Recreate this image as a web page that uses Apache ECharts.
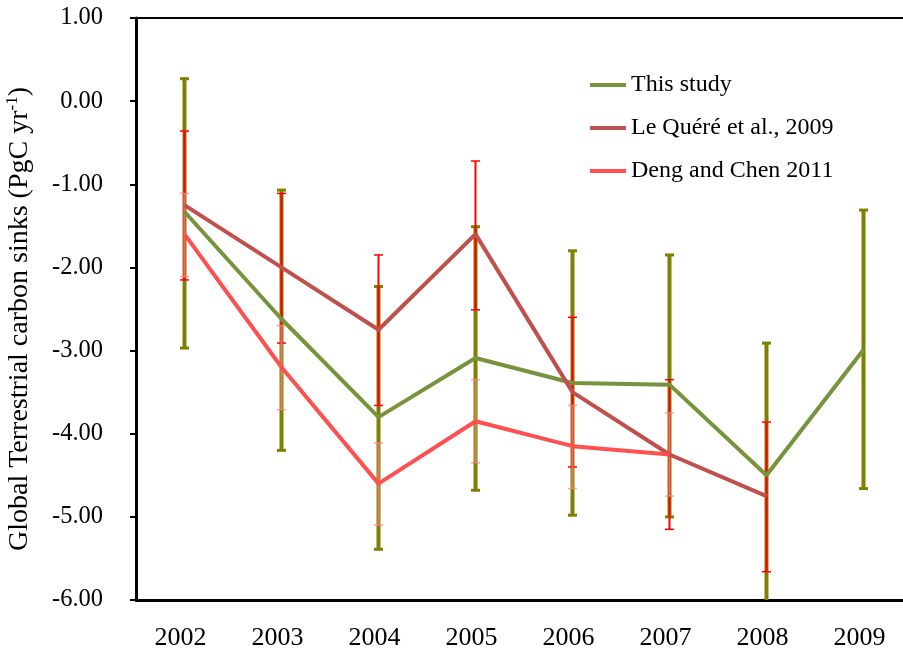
<!DOCTYPE html>
<html>
<head>
<meta charset="utf-8">
<script src="https://cdn.jsdelivr.net/npm/echarts@6/dist/echarts.min.js"></script>
<style>
  html, body { margin: 0; padding: 0; background: #fff; }
  #chart { width: 903px; height: 652px; }
</style>
</head>
<body>
<div id="chart"></div>
<script>
// years and series
var years = ['2002', '2003', '2004', '2005', '2006', '2007', '2008', '2009'];
var yTicks = [-6, -5, -4, -3, -2, -1, 0, 1];

var study     = [-1.33, -2.62, -3.80, -3.09, -3.39, -3.41, -4.50, -2.99];
var studyLow  = [-2.97, -4.20, -5.39, -4.68, -4.98, -5.00, -6.09, -4.66];
var studyHigh = [0.27, -1.07, -2.23, -1.51, -1.80, -1.85, -2.91, -1.31];

var leQuere     = [-1.25, -2.00, -2.75, -1.60, -3.50, -4.25, -4.75, null];
var leQuereLow  = [-2.15, -2.91, -3.66, -2.51, -4.40, -5.15, -5.66];
var leQuereHigh = [-0.36, -1.11, -1.85, -0.72, -2.60, -3.35, -3.86];

var deng     = [-1.60, -3.20, -4.60, -3.85, -4.15, -4.25, null, null];
var dengLow  = [-2.11, -3.71, -5.10, -4.35, -4.66, -4.75];
var dengHigh = [-1.11, -2.70, -4.11, -3.35, -3.66, -3.75];

var font = 'Liberation Serif';

function errData(low, high) {
  var out = [];
  for (var i = 0; i < low.length; i++) out.push([i, low[i], high[i]]);
  return out;
}

// draws vertical error bar with caps
function errorBar(color, width, capW, capH) {
  return function (params, api) {
    var lo = api.coord([api.value(0), api.value(1)]);
    var hi = api.coord([api.value(0), api.value(2)]);
    var st = { stroke: color, lineWidth: width };
    var capSt = { stroke: color, lineWidth: capH };
    return {
      type: 'group',
      children: [
        { type: 'line', shape: { x1: lo[0], y1: lo[1], x2: hi[0], y2: hi[1] }, style: st },
        { type: 'line', shape: { x1: hi[0] - capW / 2, y1: hi[1], x2: hi[0] + capW / 2, y2: hi[1] }, style: capSt },
        { type: 'line', shape: { x1: lo[0] - capW / 2, y1: lo[1], x2: lo[0] + capW / 2, y2: lo[1] }, style: capSt }
      ]
    };
  };
}

var myChart = echarts.init(document.getElementById('chart'));
var option = {
  animation: false,
  backgroundColor: '#fff',
  textStyle: { fontFamily: font },
  grid: {
    left: 136, top: 18, width: 776, height: 582,
    outerBoundsMode: 'none',
    show: true, borderColor: '#000', borderWidth: 2
  },
  legend: {
    data: ['This study', 'Le Quéré et al., 2009', 'Deng and Chen 2011'],
    orient: 'vertical',
    left: 585, top: 68,
    itemWidth: 36, itemHeight: 4, itemGap: 19,
    icon: 'rect',
    textStyle: { fontFamily: font, fontSize: 24, color: '#000' }
  },
  xAxis: {
    type: 'category',
    data: years,
    axisLine: { onZero: false, lineStyle: { color: '#000', width: 3 } },
    axisTick: { length: 5, lineStyle: { color: '#000', width: 2 } },
    axisLabel: { fontFamily: font, fontSize: 26, color: '#000', margin: 25, padding: [0, 8, 0, 0] },
    splitLine: { show: false }
  },
  yAxis: {
    type: 'value',
    min: yTicks[0], max: yTicks[yTicks.length - 1], interval: 1,
    axisLine: { show: true, lineStyle: { color: '#000', width: 3 } },
    axisTick: { show: true, length: 6, lineStyle: { color: '#000', width: 2 } },
    axisLabel: {
      fontFamily: font, fontSize: 24.5, color: '#000', margin: 33,
      formatter: function (v) { return v.toFixed(2); }
    },
    splitLine: { show: false },
    name: '{n|Global Terrestrial carbon sinks (PgC yr}{s|-1}{n|)}',
    nameLocation: 'middle',
    nameGap: 101,
    nameRotate: 90,
    nameTextStyle: {
      padding: [0, 20, 0, 0],
      rich: {
        n: { fontFamily: font, fontSize: 28, color: '#000' },
        s: { fontFamily: font, fontSize: 17, color: '#000', padding: [0, 0, 14, 0] }
      }
    }
  },
  series: [
    {
      type: 'custom', name: 'study err', clip: true, z: 1,
      renderItem: errorBar('#808000', 4, 9, 3),
      data: errData(studyLow, studyHigh)
    },
    {
      type: 'custom', name: 'lq err', clip: true, z: 2,
      renderItem: errorBar('#ff0000', 2, 9, 1.5),
      data: errData(leQuereLow, leQuereHigh)
    },
    {
      type: 'custom', name: 'deng err', clip: true, z: 3,
      renderItem: errorBar('rgba(255,130,130,0.75)', 2, 9, 1.5),
      data: errData(dengLow, dengHigh)
    },
    {
      name: 'This study', type: 'line', data: study, z: 5,
      showSymbol: false, color: '#77933c', lineStyle: { width: 4, color: '#77933c' }
    },
    {
      name: 'Le Quéré et al., 2009', type: 'line', data: leQuere, z: 5,
      showSymbol: false, color: '#c0504d', lineStyle: { width: 4, color: '#c0504d' }
    },
    {
      name: 'Deng and Chen 2011', type: 'line', data: deng, z: 5,
      showSymbol: false, color: '#ff5050', lineStyle: { width: 4, color: '#ff5050' }
    }
  ]
};
myChart.setOption(option);
window.onresize = function () {
  myChart.resize();
};
</script>
</body>
</html>
